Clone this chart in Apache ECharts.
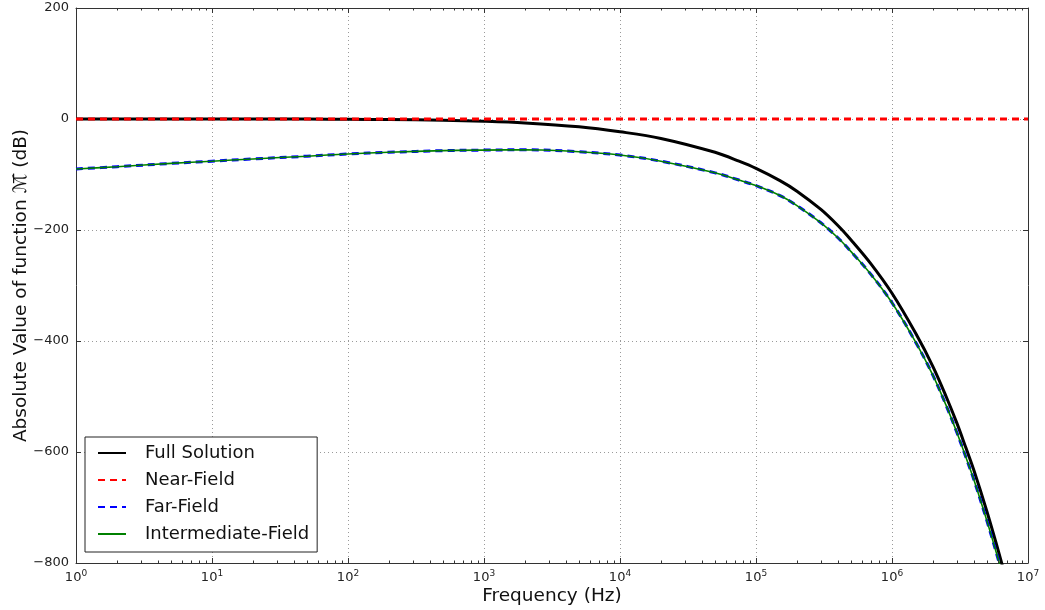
<!DOCTYPE html>
<html>
<head>
<meta charset="utf-8">
<script src="https://cdn.jsdelivr.net/npm/echarts@6/dist/echarts.min.js"></script>
<style>
  html, body { margin: 0; padding: 0; background: #fff; }
  #chart { width: 1045px; height: 610px; }
</style>
</head>
<body>
<div id="chart"></div>
<script>
// Frequency samples (Hz)
const freqs = [1, 2, 5, 10, 20, 50, 100, 200, 500, 1000, 2000, 5000,
  1e4, 2e4, 5e4, 7.5e4, 1e5, 1.5e5, 2e5, 3e5, 4e5, 5e5, 7e5,
  1e6, 1.5e6, 2e6, 2.5e6, 3e6, 3.5e6, 4e6, 5e6, 6e6, 6.5e6];

// |M| in dB for each model
const fullSolution = [0, 0, 0, 0, 0, -0.2, -0.5, -1, -2.3, -4, -7, -14,
  -23, -35, -60, -76, -89, -111, -130, -163, -192, -218, -261,
  -314, -387, -446, -500, -548, -593, -633, -708, -775, -806];

const farField = [-90, -86, -80, -76, -72, -67, -63, -60, -57, -56, -55.5, -59,
  -65, -76, -97, -110, -120, -138, -156, -187, -214, -239, -280,
  -331, -403, -462, -516, -565, -610, -650, -725, -791, -822];

const intermediateField = [-90, -86, -80, -76, -72, -67, -63, -60, -57, -56, -55.5, -59,
  -65, -76, -97, -110, -120, -138, -156, -187, -214, -239, -280,
  -331, -403, -462, -516, -565, -610, -650, -725, -791, -822];

// Near-field is flat over the whole band
const nearFreqs = [1, 10, 100, 1e3, 1e4, 1e5, 1e6, 1e7];
const nearField = [0, 0, 0, 0, 0, 0, 0, 0];

const xRange = [1, 1e7];
const yRange = [-800, 200];
const yStep = 200;

const pairs = (xs, vals) => xs.map((f, i) => [f, vals[i]]);

const FONT = 'DejaVu Sans';
const axisColor = '#333';
const gridLine = { show: true, lineStyle: { color: '#9a9a9a', type: [1, 3], width: 1 } };

const chart = echarts.init(document.getElementById('chart'), null, { renderer: 'canvas' });

const curve = { symbol: 'none', showSymbol: false, smooth: 0.35, clip: true };

const option = {
  animation: false,
  backgroundColor: '#fff',
  textStyle: { fontFamily: FONT },
  grid: { left: 76, right: 17, top: 8, bottom: 47, containLabel: false, outerBoundsMode: 'none' },
  legend: {
    orient: 'vertical',
    left: 85,
    top: 437,
    padding: [6, 8, 8, 12],
    itemGap: 7,
    itemWidth: 28,
    itemHeight: 14,
    backgroundColor: '#fff',
    borderColor: '#222',
    borderWidth: 1,
    borderRadius: 0,
    itemStyle: { opacity: 0 },
    textStyle: { fontFamily: FONT, fontSize: 18, color: '#111', lineHeight: 20, padding: [0, 0, 0, 14] },
    data: ['Full Solution', 'Near-Field', 'Far-Field', 'Intermediate-Field']
  },
  xAxis: [{
    type: 'log',
    logBase: 10,
    min: xRange[0],
    max: xRange[1],
    name: 'Frequency (Hz)',
    nameLocation: 'middle',
    nameGap: 24,
    nameMoveOverlap: false,
    nameTextStyle: { fontFamily: FONT, fontSize: 18.5, color: '#111' },
    axisLine: { show: true, onZero: false, lineStyle: { color: axisColor, width: 1 } },
    axisTick: { show: true, inside: true, length: 5, lineStyle: { color: axisColor } },
    splitLine: gridLine,
    axisLabel: {
      show: true,
      margin: 6,
      showMinLabel: true,
      showMaxLabel: true,
      formatter: v => '{b|10}{s|' + Math.round(Math.log10(v)) + '}',
      rich: {
        b: { fontFamily: FONT, fontSize: 13, color: '#222' },
        s: { fontFamily: FONT, fontSize: 9, color: '#222', padding: [0, 0, 9, 0] }
      }
    }
  }, {
    type: 'log',
    logBase: 10,
    min: xRange[0],
    max: xRange[1],
    position: 'top',
    axisLine: { show: true, onZero: false, lineStyle: { color: axisColor, width: 1 } },
    axisTick: { show: true, inside: true, length: 5, lineStyle: { color: axisColor } },
    axisLabel: { show: false },
    splitLine: { show: false }
  }],
  yAxis: [{
    type: 'value',
    min: yRange[0],
    max: yRange[1],
    interval: yStep,
    name: 'Absolute Value of function \u2133\u0305 (dB)',
    nameLocation: 'middle',
    nameGap: 45,
    nameMoveOverlap: false,
    nameTextStyle: { fontFamily: FONT, fontSize: 18.5, color: '#111' },
    axisLine: { show: true, onZero: false, lineStyle: { color: axisColor, width: 1 } },
    axisTick: { show: true, inside: true, length: 5, lineStyle: { color: axisColor } },
    splitLine: gridLine,
    axisLabel: {
      show: true,
      margin: 7,
      fontFamily: FONT,
      fontSize: 13,
      color: '#222',
      formatter: v => String(v).replace('-', '\u2212')
    }
  }, {
    type: 'value',
    min: yRange[0],
    max: yRange[1],
    interval: yStep,
    position: 'right',
    axisLine: { show: true, onZero: false, lineStyle: { color: axisColor, width: 1 } },
    axisTick: { show: true, inside: true, length: 5, lineStyle: { color: axisColor } },
    axisLabel: { show: false },
    splitLine: { show: false }
  }],
  series: [
    Object.assign({
      name: 'Full Solution',
      type: 'line',
      data: pairs(freqs, fullSolution),
      color: '#000',
      lineStyle: { color: '#000', width: 3 },
      z: 2
    }, curve),
    {
      name: 'Near-Field',
      type: 'line',
      data: pairs(nearFreqs, nearField),
      symbol: 'none',
      clip: true,
      color: '#ff0000',
      lineStyle: { color: '#ff0000', width: 3, type: [7, 5] },
      z: 3
    },
    Object.assign({
      name: 'Far-Field',
      type: 'line',
      data: pairs(freqs, farField),
      color: '#0000ff',
      lineStyle: { color: '#0000ff', width: 3, type: [7, 5] },
      z: 4
    }, curve),
    Object.assign({
      name: 'Intermediate-Field',
      type: 'line',
      data: pairs(freqs, intermediateField),
      color: '#008000',
      lineStyle: { color: '#008000', width: 1.6 },
      z: 5
    }, curve)
  ]
};

chart.setOption(option);

// Minor log ticks (2..9 within each decade) on the bottom and top frame edges
const yBottom = chart.convertToPixel({ yAxisIndex: 0 }, yRange[0]);
const yTop = chart.convertToPixel({ yAxisIndex: 0 }, yRange[1]);
const minorTicks = [];
for (let d = 0; d < 7; d++) {
  for (let k = 2; k <= 9; k++) {
    const x = Math.round(chart.convertToPixel({ xAxisIndex: 0 }, k * Math.pow(10, d))) + 0.5;
    minorTicks.push({ type: 'line', shape: { x1: x, y1: yBottom, x2: x, y2: yBottom - 2.5 },
      style: { stroke: axisColor, lineWidth: 1 }, silent: true, z: 10 });
    minorTicks.push({ type: 'line', shape: { x1: x, y1: yTop, x2: x, y2: yTop + 2.5 },
      style: { stroke: axisColor, lineWidth: 1 }, silent: true, z: 10 });
  }
}
chart.setOption({ graphic: minorTicks });
</script>
</body>
</html>
